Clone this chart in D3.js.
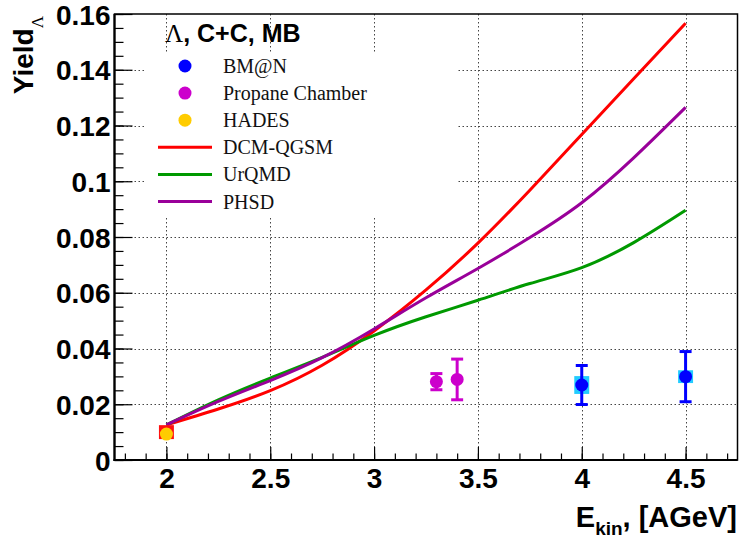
<!DOCTYPE html>
<html>
<head>
<meta charset="utf-8">
<script src="https://cdn.jsdelivr.net/npm/d3@7"></script>
<style>
  html, body { margin: 0; padding: 0; background: #fff; }
  svg { display: block; }
  .tick text { font-family: "Liberation Sans", Arial, sans-serif; font-weight: bold; font-size: 28px; fill: #000; }
</style>
</head>
<body>
<svg id="chart" width="739" height="540"></svg>
<script>
// Model curves: Lambda yield vs. beam kinetic energy
const energies = [2.0, 2.25, 2.5, 2.75, 3.0, 3.25, 3.5, 3.75, 4.0, 4.25, 4.5];
const dcmQgsm = [0.0126, 0.0183, 0.0249, 0.0340, 0.0463, 0.0610, 0.0778, 0.0968, 0.1168, 0.1368, 0.1567];
const urqmd   = [0.0126, 0.0216, 0.0294, 0.0368, 0.0447, 0.0514, 0.0573, 0.0633, 0.0690, 0.0780, 0.0896];
const phsd    = [0.0126, 0.0210, 0.0285, 0.0367, 0.0470, 0.0582, 0.0687, 0.0798, 0.0923, 0.1084, 0.1265];

// Measurements
const bmnE = [4.0, 4.5];
const bmnY = [0.0269, 0.0299];
const bmnStat = [0.0070, 0.0090];
const bmnSys = [0.0032, 0.0023];

const propaneE = [3.3, 3.4];
const propaneY = [0.0281, 0.0289];
const propaneStat = [0.0029, 0.0073];

const hadesE = [2.0];
const hadesY = [0.0093];
const hadesSysLo = [0.0075];
const hadesSysHi = [0.0125];

// Axis ticks
const xMajor = [2, 2.5, 3, 3.5, 4, 4.5];
const xMinor = d3.range(18, 48).map(v => v / 10);
const yMajor = [0, 0.02, 0.04, 0.06, 0.08, 0.1, 0.12, 0.14, 0.16];
const yMinor = d3.range(0, 33).map(v => v * 0.005);

const legendTitle = ", C+C, MB";
const legendNames = ["BM@N", "Propane Chamber", "HADES", "DCM-QGSM", "UrQMD", "PHSD"];

const colors = {
  bmn: "#0000ff", bmnSys: "#22ccff",
  propane: "#cc00cc",
  hades: "#ffcc00", hadesSys: "#ff1010",
  dcm: "#ff0000", urqmd: "#009900", phsd: "#990099"
};

const svg = d3.select("#chart");
const L = 114.5, R = 737.5, T = 14, B = 460;
const x = d3.scaleLinear().domain([1.75, 4.75]).range([L, R]);
const y = d3.scaleLinear().domain([0, 0.16]).range([B, T]);

// Grid
const grid = svg.append("g").attr("stroke", "#444").attr("stroke-width", 1).attr("stroke-dasharray", "1.5,2.5");
grid.selectAll("line.gx").data(xMajor).join("line")
  .attr("x1", d => Math.round(x(d)) + 0.5).attr("x2", d => Math.round(x(d)) + 0.5)
  .attr("y1", T).attr("y2", B);
grid.selectAll("line.gy").data(yMajor.filter(v => v > 0 && v < 0.16)).join("line")
  .attr("x1", L).attr("x2", R)
  .attr("y1", d => Math.round(y(d)) + 0.5).attr("y2", d => Math.round(y(d)) + 0.5);

// Legend background hides the grid behind the entries
svg.append("rect").attr("x", 145).attr("y", 52).attr("width", 312).attr("height", 166).attr("fill", "#fff");

// Model curves
const line = d3.line().x(d => x(d[0])).y(d => y(d[1])).curve(d3.curveNatural);
[[dcmQgsm, colors.dcm], [urqmd, colors.urqmd], [phsd, colors.phsd]].forEach(([vals, c]) => {
  svg.append("path")
    .datum(energies.map((e, i) => [e, vals[i]]))
    .attr("d", line).attr("fill", "none").attr("stroke", c).attr("stroke-width", 3);
});

// Systematic boxes
const boxHalf = 0.036;
svg.selectAll("rect.hsys").data(hadesE).join("rect")
  .attr("x", d => x(d - boxHalf)).attr("width", d => x(d + boxHalf) - x(d - boxHalf))
  .attr("y", (d, i) => y(hadesSysHi[i])).attr("height", (d, i) => y(hadesSysLo[i]) - y(hadesSysHi[i]))
  .attr("fill", colors.hadesSys);
svg.selectAll("rect.bsys").data(bmnE).join("rect")
  .attr("x", d => x(d - boxHalf)).attr("width", d => x(d + boxHalf) - x(d - boxHalf))
  .attr("y", (d, i) => y(bmnY[i] + bmnSys[i])).attr("height", (d, i) => y(bmnY[i] - bmnSys[i]) - y(bmnY[i] + bmnSys[i]))
  .attr("fill", colors.bmnSys);

// Error bars with caps
function errorBars(es, ys, errs, color) {
  const g = svg.append("g").attr("stroke", color).attr("stroke-width", 3);
  es.forEach((e, i) => {
    const cx = x(e), top = y(ys[i] + errs[i]), bot = y(ys[i] - errs[i]);
    g.append("line").attr("x1", cx).attr("x2", cx).attr("y1", top).attr("y2", bot);
    g.append("line").attr("x1", cx - 6).attr("x2", cx + 6).attr("y1", top).attr("y2", top);
    g.append("line").attr("x1", cx - 6).attr("x2", cx + 6).attr("y1", bot).attr("y2", bot);
  });
}
errorBars(propaneE, propaneY, propaneStat, colors.propane);
errorBars(bmnE, bmnY, bmnStat, colors.bmn);

function points(es, ys, color) {
  svg.append("g").selectAll("circle").data(es).join("circle")
    .attr("cx", d => x(d)).attr("cy", (d, i) => y(ys[i])).attr("r", 6.5).attr("fill", color);
}
points(propaneE, propaneY, colors.propane);
points(bmnE, bmnY, colors.bmn);
points(hadesE, hadesY, colors.hades);

// Axes (ticks point into the frame)
const fmt = d => d === 0 ? "0" : String(+d.toFixed(2));
svg.append("g").attr("transform", `translate(0,${B})`)
  .call(d3.axisBottom(x).tickValues(xMajor).tickSize(-13).tickPadding(8).tickFormat(fmt));
svg.append("g").attr("transform", `translate(0,${B})`)
  .call(d3.axisBottom(x).tickValues(xMinor).tickSize(-6.5).tickFormat(""));
const yAxis = svg.append("g").attr("transform", `translate(${L},0)`)
  .call(d3.axisLeft(y).tickValues(yMajor).tickSize(-18).tickPadding(4).tickFormat(fmt));
svg.append("g").attr("transform", `translate(${L},0)`)
  .call(d3.axisLeft(y).tickValues(yMinor).tickSize(-9).tickFormat(""));
svg.selectAll(".domain").remove();
svg.selectAll(".tick line").attr("stroke", "#000").attr("stroke-width", 1.2);
yAxis.selectAll(".tick text").attr("dy", "0.36em");

// Frame
svg.append("rect").attr("x", L).attr("y", T).attr("width", R - L).attr("height", B - T)
  .attr("fill", "none").attr("stroke", "#000").attr("stroke-width", 1.5);
svg.append("line").attr("x1", L).attr("x2", L).attr("y1", T).attr("y2", B + 1).attr("stroke", "#000").attr("stroke-width", 2.2);
svg.append("line").attr("x1", L - 1).attr("x2", R).attr("y1", B).attr("y2", B).attr("stroke", "#000").attr("stroke-width", 2.2);

// Axis titles
const yt = svg.append("text").attr("transform", `translate(33,${T + 2}) rotate(-90)`)
  .attr("text-anchor", "end")
  .style("font-family", "Liberation Sans, Arial, sans-serif").style("font-weight", "bold").style("font-size", "28px");
yt.append("tspan").text("Yield");
yt.append("tspan").attr("dy", 10).style("font-size", "17px").style("font-weight", "normal")
  .style("font-family", "Liberation Serif, Times New Roman, serif").text("Λ");

const xt = svg.append("text").attr("x", 737).attr("y", 527).attr("text-anchor", "end")
  .style("font-family", "Liberation Sans, Arial, sans-serif").style("font-weight", "bold").style("font-size", "29px");
xt.append("tspan").text("E");
xt.append("tspan").attr("dy", 8).style("font-size", "19px").text("kin");
xt.append("tspan").attr("dy", -8).text(", [AGeV]");

// Legend
const lt = svg.append("text").attr("x", 165).attr("y", 42).style("font-size", "25px");
lt.append("tspan").style("font-family", "Liberation Serif, Times New Roman, serif").text("Λ");
lt.append("tspan").style("font-family", "Liberation Sans, Arial, sans-serif").style("font-weight", "bold").text(legendTitle);

const rowY = i => 66 + i * 27.1;
const legendMarks = [
  { kind: "pt", color: colors.bmn }, { kind: "pt", color: colors.propane }, { kind: "pt", color: colors.hades },
  { kind: "ln", color: colors.dcm }, { kind: "ln", color: colors.urqmd }, { kind: "ln", color: colors.phsd }
];
const lg = svg.append("g");
legendMarks.forEach((m, i) => {
  if (m.kind === "pt") {
    lg.append("circle").attr("cx", 185).attr("cy", rowY(i)).attr("r", 6.5).attr("fill", m.color);
  } else {
    lg.append("line").attr("x1", 158).attr("x2", 212).attr("y1", rowY(i)).attr("y2", rowY(i))
      .attr("stroke", m.color).attr("stroke-width", 3);
  }
  lg.append("text").attr("x", 223).attr("y", rowY(i)).attr("dy", "0.35em")
    .style("font-family", "Liberation Serif, Times New Roman, serif").style("font-size", "20px").attr("fill", "#111")
    .text(legendNames[i]);
});
</script>
</body>
</html>
